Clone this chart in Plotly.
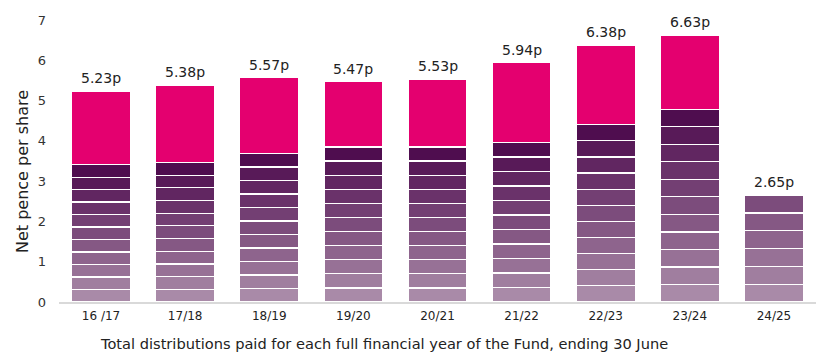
import plotly.graph_objects as go

# Financial years
years = ["16 /17", "17/18", "18/19", "19/20", "20/21", "21/22", "22/23", "23/24", "24/25"]
# Regular monthly distribution (pence) per year
monthly_payment = [0.31, 0.315, 0.335, 0.35, 0.35, 0.36, 0.40, 0.435, 0.4417]
# Number of regular monthly payments shown in the stack
months_paid = [11, 11, 11, 11, 11, 11, 11, 11, 6]
# Final (balancing) payment per year (pence); None where not yet paid
final_payment = [1.82, 1.915, 1.885, 1.62, 1.68, 1.98, 1.98, 1.845, None]
# Total distribution label per year
totals = [5.23, 5.38, 5.57, 5.47, 5.53, 5.94, 6.38, 6.63, 2.65]
total_labels = ["5.23p", "5.38p", "5.57p", "5.47p", "5.53p", "5.94p", "6.38p", "6.63p", "2.65p"]

FONT = "DejaVu Sans"
light = (169, 138, 168)
dark = (79, 13, 79)
n_seg = 11

fig = go.Figure()
for k in range(n_seg):
    t = k / (n_seg - 1)
    c = tuple(round(light[i] + (dark[i] - light[i]) * t) for i in range(3))
    color = "rgb(%d,%d,%d)" % c
    yv = [monthly_payment[j] if k < months_paid[j] else None for j in range(len(years))]
    fig.add_trace(go.Bar(
        x=years, y=yv, marker=dict(color=color, line=dict(color="white", width=1.2)),
        width=0.7, hoverinfo="skip", showlegend=False,
    ))
fig.add_trace(go.Bar(
    x=years, y=final_payment, marker=dict(color="#E4006F", line=dict(color="white", width=1.2)),
    width=0.7, hoverinfo="skip", showlegend=False,
))

for yr, tot, lab in zip(years, totals, total_labels):
    fig.add_annotation(x=yr, y=tot, text=lab, showarrow=False, yanchor="bottom", yshift=3,
                       font=dict(family=FONT, size=14, color="#222222"))

fig.add_annotation(xref="paper", yref="paper", x=(384 - 59) / (816 - 59), y=-(343 - 302) / 282,
                   xanchor="center", yanchor="middle", showarrow=False,
                   text="Total distributions paid for each full financial year of the Fund, ending 30 June",
                   font=dict(family=FONT, size=14.6, color="#222222"))

fig.add_annotation(xref="paper", yref="paper", x=(22 - 59) / (816 - 59), y=(302 - 172) / 282,
                   xanchor="center", yanchor="middle", showarrow=False, textangle=-90,
                   text="Net pence per share",
                   font=dict(family=FONT, size=16, color="#222222"))

fig.update_layout(
    width=816, height=359, barmode="stack", bargap=0.3,
    paper_bgcolor="white", plot_bgcolor="white",
    margin=dict(l=59, r=0, t=20, b=57),
    font=dict(family=FONT, color="#333333"),
    xaxis=dict(range=[-0.5, 8.5], showline=True, linecolor="#d9d9d9", linewidth=1.5,
               ticks="", tickfont=dict(size=12, color="#222222"), showgrid=False,
               ticklabelstandoff=2, fixedrange=True),
    yaxis=dict(range=[0, 7], dtick=1, showgrid=False, zeroline=False, ticks="",
               ticklabelstandoff=12, fixedrange=True,
               tickfont=dict(size=13, color="#333333")),
)
fig.write_html("out.html", config={"displayModeBar": False},
               post_script="document.body.style.margin='0';")
